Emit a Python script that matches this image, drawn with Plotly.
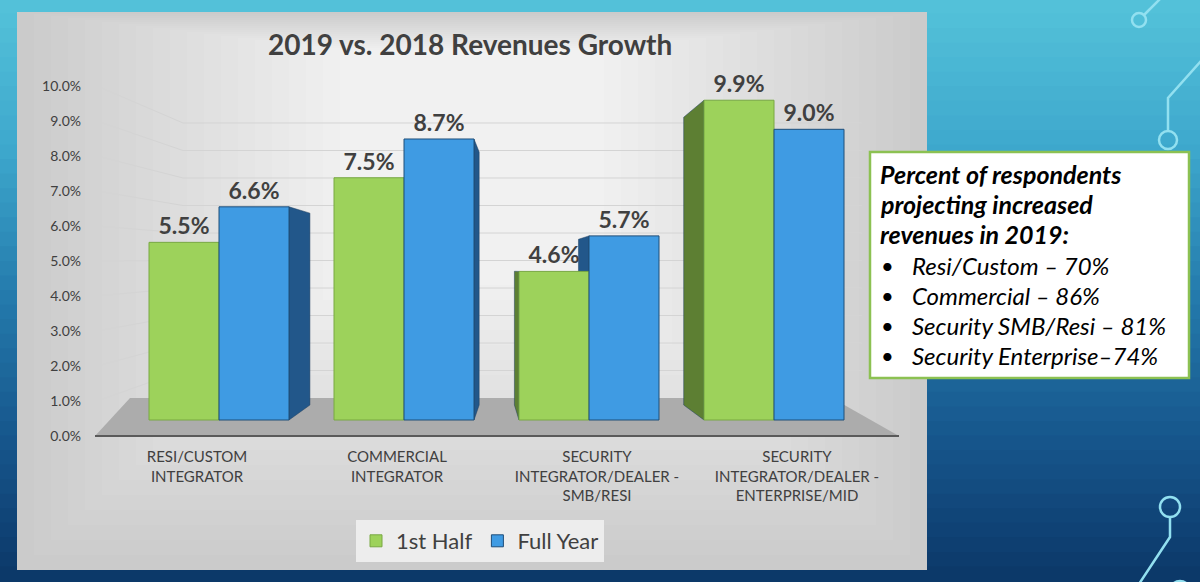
import numpy as np
import plotly.graph_objects as go

# data
categories = ["RESI/CUSTOM<br>INTEGRATOR", "COMMERCIAL<br>INTEGRATOR",
              "SECURITY<br>INTEGRATOR/DEALER -<br>SMB/RESI",
              "SECURITY<br>INTEGRATOR/DEALER -<br>ENTERPRISE/MID"]
first_half = [5.5, 7.5, 4.6, 9.9]
full_year = [6.6, 8.7, 5.7, 9.0]
y_ticks = list(range(0, 11))
y_tick_labels = ["%.1f%%" % v for v in y_ticks]
note_head = ["Percent of respondents", "projecting increased", "revenues in 2019:"]
note_items = ["Resi/Custom \u2013 70%", "Commercial \u2013 86%",
              "Security SMB/Resi \u2013 81%", "Security Enterprise\u201374%"]

FONT = "Lato"
DARK = "#404040"

# plot area in pixels
L, R, T, B = 90, 900, 86, 436
W, H = 1200, 582


def px(x):
    return (x - L) / (R - L)


def py(y):
    return (B - y) / (B - T)


# bar axis: groups 185px apart, first at 219px; 0% at 420px, 32.3px per %
step = 185.0
bar_x_range = [-(219 - L) / step, (R - 219) / step]
unit_y = 32.3
bar_y_range = [-(B - 420) / unit_y, -(B - 420) / unit_y + (B - T) / unit_y]
# label axis: labels 200px apart, first at 197px
lab_x_range = [-(197 - L) / 200.0, (R - 197) / 200.0]

pos = list(range(len(categories)))

fig = go.Figure()
fig.add_trace(go.Bar(x=pos, y=first_half, name="1st Half",
                     marker=dict(color="#9dd25b", line=dict(color="#78a843", width=1)),
                     texttemplate="<b>%{y:.1f}%</b>", textposition="outside",
                     textfont=dict(family=FONT, size=23, color=DARK), cliponaxis=False))
fig.add_trace(go.Bar(x=pos, y=full_year, name="Full Year",
                     marker=dict(color="#3f9be3", line=dict(color="#1f4e79", width=1)),
                     texttemplate="<b>%{y:.1f}%</b>", textposition="outside",
                     textfont=dict(family=FONT, size=23, color=DARK), cliponaxis=False))
# carrier for the label axes
fig.add_trace(go.Scatter(x=pos, y=[0] * len(pos), xaxis="x2", yaxis="y2", mode="markers",
                         marker=dict(opacity=0), hoverinfo="skip", showlegend=False))

shapes = []

# slide background (teal to navy)
anchor_y = [0, 150, 300, 450, 582]
anchor_rgb = np.array([[85, 195, 218], [62, 168, 205], [36, 122, 172], [22, 84, 138], [12, 56, 104]])
nb = 40
edges = np.linspace(0, H, nb + 1)
for j in range(nb):
    yc = (edges[j] + edges[j + 1]) / 2
    c = [int(np.interp(yc, anchor_y, anchor_rgb[:, k])) for k in range(3)]
    shapes.append(dict(type="rect", xref="paper", yref="paper", layer="below",
                       x0=px(0), x1=px(W), y0=py(edges[j] - 1), y1=py(edges[j + 1] + 1),
                       fillcolor="rgb(%d,%d,%d)" % tuple(c), line=dict(width=0)))

# chart panel (soft radial grey)
for k in range(20):
    g = int(203 + k * 2.0)
    shapes.append(dict(type="rect", xref="paper", yref="paper", layer="below",
                       x0=px(17 + k * 17), x1=px(927 - k * 17),
                       y0=py(12 + k * 2), y1=py(570 - k * 15),
                       fillcolor="rgb(%d,%d,%d)" % (g, g, g), line=dict(width=0)))

# back wall gridlines (perspective)
for k in y_ticks[1:]:
    yf = B - k * (B - T) / 10.0
    yb = 398 - 27.5 * k
    shapes.append(dict(type="path", xref="paper", yref="paper", layer="below",
                       path="M %f,%f L %f,%f L %f,%f" % (px(97), py(yf), px(183), py(yb), px(862), py(yb)),
                       line=dict(color="#d4d4d4", width=1)))

# floor
shapes.append(dict(type="path", xref="paper", yref="paper", layer="below",
                   path="M %f,%f L %f,%f L %f,%f L %f,%f Z" % (px(95), py(436), px(899), py(436),
                                                             px(832), py(398), px(130), py(398)),
                   fillcolor="#acacac", line=dict(width=0)))
shapes.append(dict(type="line", xref="paper", yref="paper", layer="below",
                   x0=px(95), x1=px(899), y0=py(436), y1=py(436),
                   line=dict(color="#5a5a5a", width=2)))

# bar side faces (3D look)
half = 35 / step
u0 = (500 - 219) / step
for vals, off, col in [(first_half, -half, "#5d7f33"), (full_year, half, "#22578a")]:
    for i, v in enumerate(vals):
        u = i + off
        dx = -(u - u0) * 0.085
        edge = u + half if dx > 0 else u - half
        back0 = (420 - 405) / unit_y
        back1 = back0 + 0.9 * v
        shapes.append(dict(type="path", xref="x", yref="y", layer="between",
                           path="M %f,0 L %f,%f L %f,%f L %f,%f Z" % (edge, edge, v, edge + dx, back1,
                                                                     edge + dx, back0),
                           fillcolor=col, line=dict(color="#1f3f5f", width=0.5)))

# note box
shapes.append(dict(type="rect", xref="paper", yref="paper", layer="above",
                   x0=px(870), x1=px(1189), y0=py(152), y1=py(378),
                   fillcolor="white", line=dict(color="#8cc152", width=2.5)))

# circuit decorations
CIR = "#92e0f0"
for cx, cy, r in [(1139, 20, 7), (1168, 140, 9), (1170, 507, 10), (1180, 591, 10)]:
    shapes.append(dict(type="circle", xref="paper", yref="paper", layer="below",
                       x0=px(cx - r), x1=px(cx + r), y0=py(cy - r), y1=py(cy + r),
                       line=dict(color=CIR, width=2.5)))
for pts in [[(1144, 15), (1161, -2)],
            [(1202, 60), (1168, 98), (1168, 131)],
            [(1170, 517), (1170, 537), (1139, 584)]]:
    path = "M " + " L ".join("%f,%f" % (px(a), py(b)) for a, b in pts)
    shapes.append(dict(type="path", xref="paper", yref="paper", layer="below",
                       path=path, line=dict(color=CIR, width=2.5)))

annotations = [dict(text="<b>2019 vs. 2018 Revenues Growth</b>", xref="paper", yref="paper",
                    x=px(470), y=py(44), showarrow=False, xanchor="center", yanchor="middle",
                    font=dict(family=FONT, size=28, color=DARK))]
for j, t in enumerate(note_head):
    annotations.append(dict(text="<b><i>%s</i></b>" % t, xref="paper", yref="paper",
                            x=px(878), y=py(174 + 30 * j), showarrow=False,
                            xanchor="left", yanchor="middle",
                            font=dict(family=FONT, size=25, color="black")))
for j, t in enumerate(note_items):
    yy = py(265 + 30 * j)
    annotations.append(dict(text="\u2022", xref="paper", yref="paper", x=px(879), y=yy,
                            showarrow=False, xanchor="left", yanchor="middle",
                            font=dict(family=FONT, size=22, color="black")))
    annotations.append(dict(text="<i>%s</i>" % t, xref="paper", yref="paper", x=px(910), y=yy,
                            showarrow=False, xanchor="left", yanchor="middle",
                            font=dict(family=FONT, size=24, color="black")))

fig.update_layout(
    width=W, height=H, autosize=False,
    margin=dict(l=L, r=W - R, t=T, b=H - B, pad=0),
    paper_bgcolor="#2477ac", plot_bgcolor="rgba(0,0,0,0)",
    barmode="group", bargap=1 - 140 / step, bargroupgap=0,
    xaxis=dict(range=bar_x_range, showticklabels=False, showgrid=False, zeroline=False,
               showline=False, fixedrange=True),
    yaxis=dict(range=bar_y_range, showticklabels=False, showgrid=False, zeroline=False,
               showline=False, fixedrange=True),
    xaxis2=dict(overlaying="x", anchor="y2", side="bottom", range=lab_x_range,
                tickmode="array", tickvals=pos, ticktext=categories, ticks="",
                ticklabelstandoff=10, showgrid=False, zeroline=False, showline=False,
                tickfont=dict(family=FONT, size=15, color=DARK), fixedrange=True),
    yaxis2=dict(overlaying="y", anchor="x2", side="left", range=[0, 10],
                tickmode="array", tickvals=y_ticks, ticktext=y_tick_labels, ticks="",
                ticklabelstandoff=8, showgrid=False, zeroline=False, showline=False,
                tickfont=dict(family=FONT, size=14, color=DARK), fixedrange=True),
    legend=dict(orientation="h", x=px(480), y=py(541), xanchor="center", yanchor="middle",
                bgcolor="#ededed", font=dict(family=FONT, size=22, color=DARK)),
    shapes=shapes, annotations=annotations,
)

# drop the browser's default page margin so the slide fills the window
fig.write_html("out.html", config={"displayModeBar": False},
               post_script="document.body.style.margin='0';")
